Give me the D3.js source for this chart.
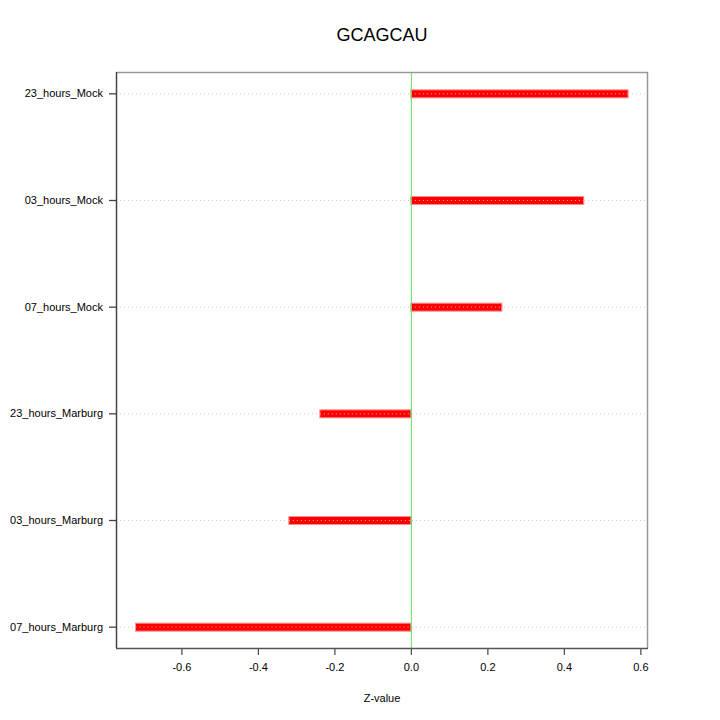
<!DOCTYPE html>
<html>
<head>
<meta charset="utf-8">
<title>GCAGCAU</title>
<script src="https://d3js.org/d3.v7.min.js"></script>
<style>
  body { margin: 0; background: #fff; }
  text { font-family: "Liberation Sans", Arial, sans-serif; fill: #000; }
</style>
</head>
<body>
<div id="chart"></div>
<script>
// samples, top to bottom
var samples = ["23_hours_Mock", "03_hours_Mock", "07_hours_Mock",
               "23_hours_Marburg", "03_hours_Marburg", "07_hours_Marburg"];
var zvalues = [0.568, 0.452, 0.238, -0.238, -0.319, -0.72];
var xticks = [-0.6, -0.4, -0.2, 0.0, 0.2, 0.4, 0.6];

var width = 720, height = 720;
var margin = {top: 72, right: 72, bottom: 72, left: 116};

var svg = d3.select("#chart").append("svg")
    .attr("width", width)
    .attr("height", height);

var x = d3.scaleLinear()
    .domain([-0.771, 0.62])
    .range([margin.left, width - margin.right]);

var y = d3.scalePoint()
    .domain(samples)
    .range([margin.top, height - margin.bottom])
    .padding(0.2);

// dotted grid lines behind bars
svg.append("g").selectAll("line.grid")
    .data(samples)
  .enter().append("line")
    .attr("x1", x.range()[0]).attr("x2", x.range()[1])
    .attr("y1", function(d) { return y(d) + 0.5; })
    .attr("y2", function(d) { return y(d) + 0.5; })
    .attr("stroke", "#cccccc")
    .attr("stroke-dasharray", "1,3");

// bars
svg.append("g").selectAll("rect")
    .data(zvalues)
  .enter().append("rect")
    .attr("x", function(d) { return x(Math.min(0, d)); })
    .attr("width", function(d) { return Math.abs(x(d) - x(0)); })
    .attr("y", function(d, i) { return y(samples[i]) - 3.5; })
    .attr("height", 8)
    .attr("fill", "#ff0000")
    .attr("stroke", "#ff9090")
    .attr("stroke-width", 1);

// dots on top of bars
svg.append("g").selectAll("line")
    .data(zvalues)
  .enter().append("line")
    .attr("x1", function(d) { return x(Math.min(0, d)); })
    .attr("x2", function(d) { return x(Math.max(0, d)); })
    .attr("y1", function(d, i) { return y(samples[i]) + 0.5; })
    .attr("y2", function(d, i) { return y(samples[i]) + 0.5; })
    .attr("stroke", "#ffaaaa")
    .attr("stroke-dasharray", "1,3");

// zero line
svg.append("line")
    .attr("x1", x(0) + 0.5).attr("x2", x(0) + 0.5)
    .attr("y1", margin.top).attr("y2", height - margin.bottom)
    .attr("stroke", "#66dd66")
    .attr("stroke-width", 1);

// frame
var x0 = x.range()[0], x1 = x.range()[1];
var y0 = margin.top, y1 = height - margin.bottom;
svg.append("line").attr("x1", x0).attr("x2", x1).attr("y1", y0 + 0.5).attr("y2", y0 + 0.5)
    .attr("stroke", "#999").attr("stroke-width", 1.5);
svg.append("line").attr("x1", x1 - 0.5).attr("x2", x1 - 0.5).attr("y1", y0).attr("y2", y1)
    .attr("stroke", "#999").attr("stroke-width", 1.5);

// x axis
var xAxis = svg.append("g")
    .attr("transform", "translate(0," + y1 + ")")
    .call(d3.axisBottom(x).tickValues(xticks).tickSize(7).tickPadding(8)
      .tickFormat(function(d) { return d3.format(".1f")(d).replace("\u2212", "-"); }));
xAxis.selectAll("path").attr("d", "M" + x0 + ",0.5H" + x1).attr("stroke", "#555").attr("stroke-width", 1.5);
xAxis.selectAll("line").attr("stroke", "#555").attr("stroke-width", 1.3);
xAxis.selectAll("text").style("font-size", "11px");

// y axis
var yAxis = svg.append("g")
    .attr("transform", "translate(" + x0 + ",0)")
    .call(d3.axisLeft(y).tickSize(7).tickPadding(6));
yAxis.selectAll("path").attr("d", "M0.5," + y0 + "V" + y1).attr("stroke", "#444").attr("stroke-width", 1.5);
yAxis.selectAll("line").attr("stroke", "#444").attr("stroke-width", 1.3);
yAxis.selectAll("text").style("font-size", "11px");

// title and axis label
svg.append("text")
    .attr("x", (x0 + x1) / 2).attr("y", 41)
    .attr("text-anchor", "middle")
    .style("font-size", "18px")
    .text("GCAGCAU");

svg.append("text")
    .attr("x", (x0 + x1) / 2).attr("y", 702)
    .attr("text-anchor", "middle")
    .style("font-size", "11px")
    .text("Z-value");
</script>
</body>
</html>
